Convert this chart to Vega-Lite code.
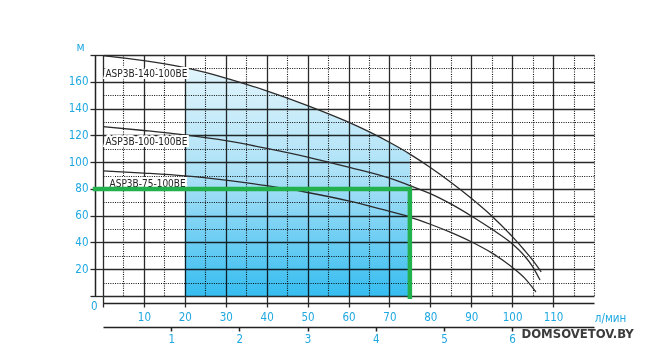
{
  "$schema": "https://vega.github.io/schema/vega-lite/v6.json",
  "width": 491,
  "height": 241,
  "autosize": {"type": "none"},
  "padding": {"left": 103, "top": 55, "right": 54, "bottom": 64},
  "background": "white",
  "config": {"view": {"stroke": null}},
  "datasets": {
    "curves": [
      {"model": "ASP3B-140-100BE", "q": 0, "h": 179.5},
      {"model": "ASP3B-140-100BE", "q": 10, "h": 175.8},
      {"model": "ASP3B-140-100BE", "q": 20, "h": 170.5},
      {"model": "ASP3B-140-100BE", "q": 30, "h": 162.8},
      {"model": "ASP3B-140-100BE", "q": 40, "h": 153.2},
      {"model": "ASP3B-140-100BE", "q": 50, "h": 142.2},
      {"model": "ASP3B-140-100BE", "q": 60, "h": 129.8},
      {"model": "ASP3B-140-100BE", "q": 70, "h": 114.8},
      {"model": "ASP3B-140-100BE", "q": 75, "h": 106},
      {"model": "ASP3B-140-100BE", "q": 80, "h": 96},
      {"model": "ASP3B-140-100BE", "q": 85, "h": 85},
      {"model": "ASP3B-140-100BE", "q": 90, "h": 73},
      {"model": "ASP3B-140-100BE", "q": 95, "h": 59.8},
      {"model": "ASP3B-140-100BE", "q": 100, "h": 44.5},
      {"model": "ASP3B-140-100BE", "q": 103, "h": 34.2},
      {"model": "ASP3B-140-100BE", "q": 105, "h": 26.8},
      {"model": "ASP3B-140-100BE", "q": 107.1, "h": 18},
      {"model": "ASP3B-100-100BE", "q": 0, "h": 126.5},
      {"model": "ASP3B-100-100BE", "q": 10, "h": 123.6},
      {"model": "ASP3B-100-100BE", "q": 20, "h": 120.3},
      {"model": "ASP3B-100-100BE", "q": 30, "h": 116},
      {"model": "ASP3B-100-100BE", "q": 40, "h": 110.3},
      {"model": "ASP3B-100-100BE", "q": 50, "h": 103.8},
      {"model": "ASP3B-100-100BE", "q": 60, "h": 96.2},
      {"model": "ASP3B-100-100BE", "q": 70, "h": 88},
      {"model": "ASP3B-100-100BE", "q": 75, "h": 82.5},
      {"model": "ASP3B-100-100BE", "q": 80, "h": 76.5},
      {"model": "ASP3B-100-100BE", "q": 85, "h": 68.8},
      {"model": "ASP3B-100-100BE", "q": 90, "h": 59.8},
      {"model": "ASP3B-100-100BE", "q": 95, "h": 50},
      {"model": "ASP3B-100-100BE", "q": 100, "h": 39},
      {"model": "ASP3B-100-100BE", "q": 103, "h": 30},
      {"model": "ASP3B-100-100BE", "q": 105, "h": 22},
      {"model": "ASP3B-100-100BE", "q": 106.8, "h": 12},
      {"model": "ASP3B-75-100BE", "q": 0, "h": 93.5},
      {"model": "ASP3B-75-100BE", "q": 10, "h": 91.8},
      {"model": "ASP3B-75-100BE", "q": 20, "h": 89.7},
      {"model": "ASP3B-75-100BE", "q": 30, "h": 86.5},
      {"model": "ASP3B-75-100BE", "q": 40, "h": 82.4},
      {"model": "ASP3B-75-100BE", "q": 50, "h": 77.3},
      {"model": "ASP3B-75-100BE", "q": 60, "h": 71},
      {"model": "ASP3B-75-100BE", "q": 68, "h": 64.8},
      {"model": "ASP3B-75-100BE", "q": 75, "h": 59},
      {"model": "ASP3B-75-100BE", "q": 80, "h": 53.6},
      {"model": "ASP3B-75-100BE", "q": 85, "h": 47.5},
      {"model": "ASP3B-75-100BE", "q": 90, "h": 40.5},
      {"model": "ASP3B-75-100BE", "q": 95, "h": 32.2},
      {"model": "ASP3B-75-100BE", "q": 100, "h": 21.5},
      {"model": "ASP3B-75-100BE", "q": 103, "h": 13.5},
      {"model": "ASP3B-75-100BE", "q": 105.8, "h": 3}
    ],
    "labels": [
      {"label": "ASP3B-140-100BE", "q": 0.6, "h": 165.6},
      {"label": "ASP3B-100-100BE", "q": 0.6, "h": 115},
      {"label": "ASP3B-75-100BE", "q": 1.6, "h": 83.3}
    ],
    "duty": [
      {"i": 1, "q": -2.5, "h": 80},
      {"i": 2, "q": 75, "h": 80},
      {"i": 3, "q": 75, "h": -2.3}
    ],
    "mark": [
      {"text": "DOMSOVETOV.BY", "q": 116, "h": -28.4}
    ]
  },
  "resolve": {"axis": {"x": "independent", "y": "independent"}},
  "layer": [
    {
      "data": {"name": "curves"},
      "transform": [{"filter": "datum.model == 'ASP3B-140-100BE' && datum.q >= 20 && datum.q <= 75"}],
      "mark": {
        "type": "area",
        "interpolate": "monotone",
        "blend": "multiply",
        "color": {
          "gradient": "linear", "x1": 0, "y1": 0, "x2": 0, "y2": 1,
          "stops": [
            {"offset": 0, "color": "#e2f5fc"},
            {"offset": 0.5, "color": "#a6dff6"},
            {"offset": 1, "color": "#36bdf0"}
          ]
        }
      },
      "encoding": {
        "x": {
          "field": "q", "type": "quantitative",
          "scale": {"domain": [0, 120], "nice": false, "zero": false},
          "axis": {
            "orient": "bottom", "offset": 0, "zindex": 0,
            "values": [0,5,10,15,20,25,30,35,40,45,50,55,60,65,70,75,80,85,90,95,100,105,110,115,120],
            "domain": false,
            "grid": true,
            "gridColor": {"condition": {"test": "datum.value % 10 == 0 && datum.value < 120", "value": "#2a2a2a"}, "value": "#111111"},
            "gridDash": {"condition": {"test": "datum.value % 10 != 0 || datum.value == 120", "value": [1, 1.3]}, "value": []},
            "gridWidth": {"condition": {"test": "datum.value % 10 == 0 && datum.value < 120", "value": 1.3}, "value": 1.1},
            "gridOpacity": 1,
            "ticks": true, "tickSize": 11, "tickColor": "#2a2a2a", "tickWidth": 1.3,
            "tickOpacity": {"condition": {"test": "datum.value % 10 != 0 || datum.value == 120", "value": 0}, "value": 1},
            "labelExpr": "datum.value % 10 == 0 && datum.value > 0 && datum.value < 120 ? datum.label : ''",
            "labelColor": "#1fa8e0", "labelFontSize": 11.5, "labelPadding": 4,
            "labelFont": "DejaVu Sans Condensed, sans-serif",
            "labelFlush": false, "labelOverlap": false,
            "title": "л/мин", "titleX": 507, "titleY": 22, "titleAlign": "center", "titleBaseline": "middle",
            "titleColor": "#1fa8e0", "titleFontWeight": "normal", "titleFontSize": 11.5,
            "titleFont": "DejaVu Sans Condensed, sans-serif"
          }
        },
        "y": {
          "field": "h", "type": "quantitative",
          "scale": {"domain": [0, 180], "nice": false},
          "axis": {
            "orient": "left", "offset": 0, "zindex": 0,
            "values": [0,10,20,30,40,50,60,70,80,90,100,110,120,130,140,150,160,170,180],
            "domain": false,
            "grid": true,
            "gridColor": {"condition": {"test": "datum.value % 20 == 0", "value": "#2a2a2a"}, "value": "#111111"},
            "gridDash": {"condition": {"test": "datum.value % 20 != 0", "value": [1, 1.3]}, "value": []},
            "gridWidth": {"condition": {"test": "datum.value % 20 == 0", "value": 1.3}, "value": 1.1},
            "gridOpacity": 1,
            "ticks": true, "tickSize": 13, "tickColor": "#2a2a2a", "tickWidth": 1.3,
            "tickOpacity": {"condition": {"test": "datum.value % 20 != 0", "value": 0}, "value": 1},
            "labelExpr": "datum.value % 20 == 0 && datum.value < 180 ? datum.label : ''",
            "labelColor": "#1fa8e0", "labelFontSize": 11.5,
            "labelFont": "DejaVu Sans Condensed, sans-serif",
            "labelPadding": {"condition": {"test": "datum.value == 0", "value": -7}, "value": 2},
            "labelOffset": {"condition": {"test": "datum.value == 0", "value": 10}, "value": 0},
            "labelFlush": false, "labelOverlap": false,
            "title": "м", "titleAngle": 0, "titleX": -23, "titleY": -9, "titleAlign": "center", "titleBaseline": "middle",
            "titleColor": "#1fa8e0", "titleFontWeight": "normal", "titleFontSize": 12,
            "titleFont": "DejaVu Sans Condensed, sans-serif"
          }
        },
        "y2": {"datum": 0}
      }
    },
    {
      "data": {"name": "curves"},
      "mark": {"type": "line", "interpolate": "monotone", "color": "#2b2b2b", "strokeWidth": 1.3},
      "encoding": {
        "x": {
          "field": "q", "type": "quantitative",
          "scale": {"domain": [0, 120], "nice": false, "zero": false},
          "axis": {"orient": "bottom", "offset": 7, "zindex": 0, "domain": true, "domainColor": "#222222", "domainWidth": 1.5,
                   "ticks": false, "labels": false, "grid": false, "title": null}
        },
        "y": {
          "field": "h", "type": "quantitative",
          "scale": {"domain": [0, 180], "nice": false},
          "axis": {"orient": "left", "offset": 8, "zindex": 0, "domain": true, "domainColor": "#222222", "domainWidth": 1.5,
                   "ticks": false, "labels": false, "grid": false, "title": null}
        },
        "detail": {"field": "model"}
      }
    },
    {
      "data": {"name": "labels"},
      "mark": {"type": "text", "align": "left", "baseline": "middle", "fontSize": 10,
               "font": "DejaVu Sans Condensed, sans-serif",
               "color": "white", "stroke": "white", "strokeWidth": 4},
      "encoding": {
        "x": {
          "field": "q", "type": "quantitative",
          "scale": {"domain": [0, 120], "nice": false, "zero": false},
          "axis": {
            "orient": "bottom", "offset": 31, "zindex": 0,
            "values": [16.6667, 33.3333, 50, 66.6667, 83.3333, 100],
            "labelExpr": "format(datum.value * 0.06, '.0f')",
            "domain": true, "domainColor": "#222222", "domainWidth": 1.5,
            "ticks": true, "tickSize": 4, "tickColor": "#222222", "tickWidth": 1.5,
            "labelColor": "#1fa8e0", "labelFontSize": 11.5, "labelPadding": 2,
            "labelFont": "DejaVu Sans Condensed, sans-serif",
            "grid": false, "title": null
          }
        },
        "y": {"field": "h", "type": "quantitative", "scale": {"domain": [0, 180], "nice": false}, "axis": null},
        "text": {"field": "label"}
      }
    },
    {
      "data": {"name": "labels"},
      "mark": {"type": "text", "align": "left", "baseline": "middle", "fontSize": 10,
               "font": "DejaVu Sans Condensed, sans-serif", "color": "#222222"},
      "encoding": {
        "x": {"field": "q", "type": "quantitative", "scale": {"domain": [0, 120], "nice": false, "zero": false}, "axis": null},
        "y": {"field": "h", "type": "quantitative", "scale": {"domain": [0, 180], "nice": false}, "axis": null},
        "text": {"field": "label"}
      }
    },
    {
      "data": {"name": "duty"},
      "mark": {"type": "line", "color": "#22b14c", "strokeWidth": 4.5, "strokeJoin": "miter", "strokeCap": "butt", "clip": false},
      "encoding": {
        "x": {"field": "q", "type": "quantitative", "scale": {"domain": [0, 120], "nice": false, "zero": false}, "axis": null},
        "y": {"field": "h", "type": "quantitative", "scale": {"domain": [0, 180], "nice": false}, "axis": null},
        "order": {"field": "i"}
      }
    },
    {
      "data": {"name": "mark"},
      "mark": {"type": "text", "align": "center", "baseline": "middle", "fontSize": 13, "fontWeight": "bold",
               "font": "DejaVu Sans Condensed, sans-serif", "color": "#3c3c3c", "clip": false},
      "encoding": {
        "x": {"field": "q", "type": "quantitative", "scale": {"domain": [0, 120], "nice": false, "zero": false}, "axis": null},
        "y": {"field": "h", "type": "quantitative", "scale": {"domain": [0, 180], "nice": false}, "axis": null},
        "text": {"field": "text"}
      }
    }
  ]
}
